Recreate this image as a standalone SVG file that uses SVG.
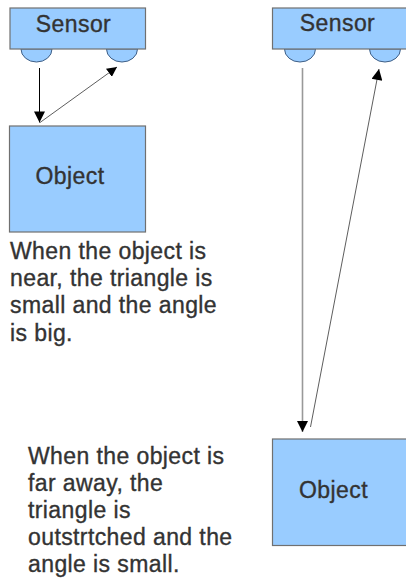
<svg xmlns="http://www.w3.org/2000/svg" width="406" height="578" viewBox="0 0 406 578">
<style>
.box{fill:#99ccff;stroke:#707070;stroke-width:1.2}
.lens{fill:#99ccff;stroke:#3f5f86;stroke-width:1}
.t{font-family:"Liberation Sans",Arial,sans-serif;font-size:23px;fill:#333333;stroke:#333333;stroke-width:0.35;letter-spacing:0.4px}
.c{stroke:#000;stroke-width:1;fill:none}
.g{stroke:#999999;stroke-width:1.6;fill:none}
.thin{stroke:#333;stroke-width:0.8;fill:none}
</style>
<defs>
<marker id="ah" viewBox="0 0 10 10" refX="10" refY="5" markerWidth="10" markerHeight="10" markerUnits="userSpaceOnUse" orient="auto"><path d="M0,0 L10,5 L0,10 Z" fill="#000"/></marker>
<marker id="ah2" viewBox="0 0 10 10" refX="10" refY="5" markerWidth="13" markerHeight="11" markerUnits="userSpaceOnUse" orient="auto"><path d="M0,0 L10,5 L0,10 Z" fill="#000"/></marker>
</defs>
<g id="sensor-left">
<path class="lens" d="M21,49 A15.5,13 0 0 0 52,49 Z"/>
<path class="lens" d="M106.5,49 A15.5,13 0 0 0 137.5,49 Z"/>
<rect class="box" x="10" y="8" width="135.5" height="41"/>
<text class="t" x="73.5" y="31.5" text-anchor="middle">Sensor</text>
</g>
<g id="object-left">
<rect class="box" x="9.5" y="126" width="136" height="106"/>
<text class="t" x="70" y="183.5" text-anchor="middle">Object</text>
</g>
<g id="sensor-right">
<path class="lens" d="M284.5,49 A15.5,13 0 0 0 315.5,49 Z"/>
<path class="lens" d="M369.5,49 A15.5,13 0 0 0 400.5,49 Z"/>
<rect class="box" x="272.5" y="8" width="140" height="41"/>
<text class="t" x="337.5" y="31" text-anchor="middle">Sensor</text>
</g>
<g id="object-right">
<rect class="box" x="272.5" y="439" width="140" height="106.5"/>
<text class="t" x="333.5" y="497.5" text-anchor="middle">Object</text>
</g>
<g id="connectors">
<line class="c" x1="39.5" y1="68" x2="39.5" y2="122.5" marker-end="url(#ah2)"/>
<line class="thin" x1="40" y1="122.5" x2="117" y2="67" marker-end="url(#ah)"/>
<line class="g" x1="302.5" y1="68" x2="302.5" y2="432" marker-end="url(#ah2)"/>
<line class="thin" x1="310.5" y1="427" x2="379" y2="69" marker-end="url(#ah2)"/>
</g>
<g id="note-near">
<text class="t" x="10" y="258.8">When the object is</text>
<text class="t" x="10" y="286.1">near, the triangle is</text>
<text class="t" x="10" y="313.4">small and the angle</text>
<text class="t" x="10" y="340.7">is big.</text>
</g>
<g id="note-far">
<text class="t" x="28" y="463.5">When the object is</text>
<text class="t" x="28" y="490.5">far away, the</text>
<text class="t" x="28" y="517.5">triangle is</text>
<text class="t" x="28" y="544.5">outstrtched and the</text>
<text class="t" x="28" y="571.5">angle is small.</text>
</g>
</svg>
